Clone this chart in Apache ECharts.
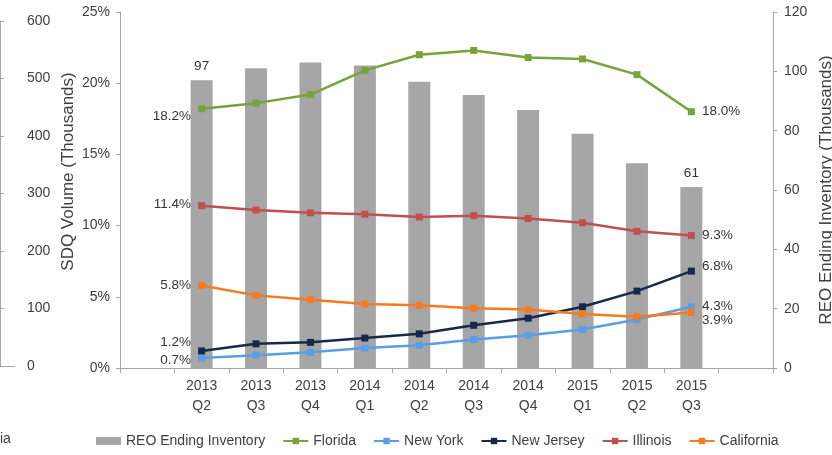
<!DOCTYPE html>
<html>
<head>
<meta charset="utf-8">
<script src="https://cdn.jsdelivr.net/npm/echarts@6/dist/echarts.min.js"></script>
<style>
html,body{margin:0;padding:0;background:#fff;}
#chart{width:832px;height:455px;}
</style>
</head>
<body>
<div id="chart"></div>
<script>
// ---- data ----
const categories = ['2013\nQ2','2013\nQ3','2013\nQ4','2014\nQ1','2014\nQ2','2014\nQ3','2014\nQ4','2015\nQ1','2015\nQ2','2015\nQ3'];
const reoInventory = [97, 101, 103, 102, 96.5, 92, 87, 79, 69, 61];
const florida    = [18.2, 18.6, 19.2, 20.9, 22.0, 22.3, 21.8, 21.7, 20.6, 18.0];
const newYork    = [0.7, 0.9, 1.1, 1.4, 1.6, 2.0, 2.3, 2.7, 3.4, 4.3];
const newJersey  = [1.2, 1.7, 1.8, 2.1, 2.4, 3.0, 3.5, 4.3, 5.4, 6.8];
const illinois   = [11.4, 11.1, 10.9, 10.8, 10.6, 10.7, 10.5, 10.2, 9.6, 9.3];
const california = [5.8, 5.1, 4.8, 4.5, 4.4, 4.2, 4.1, 3.8, 3.6, 3.9];
const pctAxis = {min: 0, max: 25, interval: 5};
const reoAxis = {min: 0, max: 120, interval: 20};
const sdqAxis = {min: 0, max: 600, interval: 100};
const seriesNames = ['REO Ending Inventory','Florida','New York','New Jersey','Illinois','California'];

// ---- styles ----
const FONT = 'Liberation Sans, Arial, sans-serif';
const TXT = '#404040';
const AX = '#a6a6a6';
const colors = {
  'REO Ending Inventory': '#a6a6a6',
  'Florida': '#77a33a',
  'New York': '#5a9ee6',
  'New Jersey': '#17294a',
  'Illinois': '#c0504d',
  'California': '#f47b20'
};
const labelOffsets = {
  'Florida':    {first: [0, 7],  last: [0, 0]},
  'New York':   {first: [0, 2],  last: [0, 0]},
  'New Jersey': {first: [0, -9], last: [0, -5]},
  'Illinois':   {first: [0, -1], last: [0, 0]},
  'California': {first: [0, 0],  last: [0, 8]}
};

// pad one empty slot on each side of the category axis
const axisCats = [''].concat(categories, ['']);

function lineSeries(name, values) {
  const n = values.length;
  const data = [null];
  values.forEach((v, i) => {
    if (i === 0 || i === n - 1) {
      const first = i === 0;
      data.push({
        value: v,
        label: {
          show: true,
          position: first ? 'left' : 'right',
          distance: 7,
          offset: first ? labelOffsets[name].first : labelOffsets[name].last,
          formatter: (p) => p.value.toFixed(1) + '%',
          color: '#333', fontSize: 13.5, fontFamily: FONT
        }
      });
    } else {
      data.push(v);
    }
  });
  data.push(null);
  return {
    name: name, type: 'line', xAxisIndex: 0, yAxisIndex: 0,
    data: data, symbol: 'rect', symbolSize: 7,
    lineStyle: {width: 2.5, color: colors[name]},
    itemStyle: {color: colors[name]},
    z: 3
  };
}

const barData = [null];
reoInventory.forEach((v, i) => {
  if (i === 0 || i === reoInventory.length - 1) {
    barData.push({value: v, label: {show: true, position: 'top', distance: 7, color: '#333', fontSize: 13.5, fontFamily: FONT}});
  } else barData.push(v);
});
barData.push(null);

const chart = echarts.init(document.getElementById('chart'), null, {renderer: 'canvas'});
chart.setOption({
  animation: false,
  backgroundColor: '#fff',
  textStyle: {fontFamily: FONT},
  grid: [
    {left: 120, right: 59, top: 12, bottom: 87, outerBoundsMode: 'none', containLabel: false},
    {left: 0, right: 817, top: 21, bottom: 89, outerBoundsMode: 'none', containLabel: false}
  ],
  legend: {
    left: 96, top: 434, padding: 0,
    itemWidth: 25, itemHeight: 8, itemGap: 17,
    textStyle: {color: TXT, fontSize: 14, fontFamily: FONT},
    data: seriesNames.map((n, i) => i === 0 ? {name: n, icon: 'rect'} : {name: n})
  },
  xAxis: [
    {
      gridIndex: 0, type: 'category', data: axisCats, boundaryGap: true,
      axisLine: {lineStyle: {color: AX, width: 1}},
      axisTick: {show: true, interval: 0, length: 5, lineStyle: {color: AX}},
      axisLabel: {interval: 0, color: TXT, fontSize: 14, lineHeight: 20, margin: 8, fontFamily: FONT},
      splitLine: {show: false}
    },
    {
      gridIndex: 1, type: 'value', min: 0, max: 1,
      axisLine: {show: true, onZero: false, lineStyle: {color: AX}},
      axisTick: {show: false}, axisLabel: {show: false}, splitLine: {show: false}
    }
  ],
  yAxis: [
    {
      gridIndex: 0, type: 'value', position: 'left',
      min: pctAxis.min, max: pctAxis.max, interval: pctAxis.interval,
      axisLine: {show: true, lineStyle: {color: AX}},
      axisTick: {show: true, length: 4, lineStyle: {color: AX}},
      axisLabel: {formatter: '{value}%', color: TXT, fontSize: 14, margin: 10, fontFamily: FONT},
      splitLine: {show: false}
    },
    {
      gridIndex: 0, type: 'value', position: 'right',
      min: reoAxis.min, max: reoAxis.max, interval: reoAxis.interval,
      name: 'REO Ending Inventory (Thousands)', nameLocation: 'middle', nameRotate: 90, nameGap: 44,
      nameTextStyle: {color: TXT, fontSize: 17, fontFamily: FONT},
      axisLine: {show: true, lineStyle: {color: AX}},
      axisTick: {show: true, length: 4, lineStyle: {color: AX}},
      axisLabel: {color: TXT, fontSize: 14, margin: 11, fontFamily: FONT},
      splitLine: {show: false}
    },
    {
      gridIndex: 1, type: 'value', position: 'right',
      min: sdqAxis.min, max: sdqAxis.max, interval: sdqAxis.interval,
      name: 'SDQ Volume (Thousands)', nameLocation: 'middle', nameRotate: 90, nameGap: 45,
      nameTextStyle: {color: TXT, fontSize: 17, fontFamily: FONT, padding: [0, 0, 0, 44]},
      axisLine: {show: true, lineStyle: {color: AX}},
      axisTick: {show: true, length: 4, lineStyle: {color: AX}},
      axisLabel: {color: TXT, fontSize: 14, margin: 12, fontFamily: FONT},
      splitLine: {show: false}
    }
  ],
  graphic: [
    {type: 'text', left: 0, top: 432, style: {text: 'ia', fill: TXT, font: '14px ' + FONT}}
  ],
  series: [
    {
      name: 'REO Ending Inventory', type: 'bar', xAxisIndex: 0, yAxisIndex: 1,
      data: barData, barWidth: 22, itemStyle: {color: colors['REO Ending Inventory']}, z: 2
    },
    lineSeries('Florida', florida),
    lineSeries('New York', newYork),
    lineSeries('New Jersey', newJersey),
    lineSeries('Illinois', illinois),
    lineSeries('California', california)
  ]
});
</script>
</body>
</html>
